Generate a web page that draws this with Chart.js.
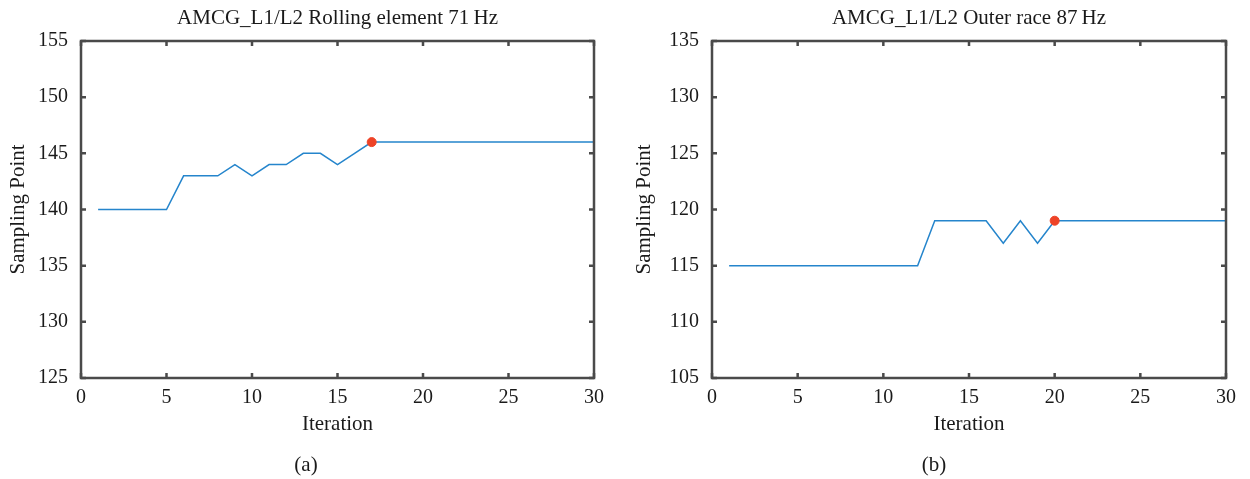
<!DOCTYPE html>
<html>
<head>
<meta charset="utf-8">
<script src="https://cdn.jsdelivr.net/npm/chart.js@4.4.1/dist/chart.umd.min.js"></script>
<style>
    html, body { margin: 0; padding: 0; background: #ffffff; }
    #wrap { width: 1250px; height: 479px; display: flex; }
    canvas { display: block; }
    #chartB { margin-left: 6px; }
</style>
</head>
<body>
<div id="wrap">
    <canvas id="chartA" width="612" height="479"></canvas>
    <canvas id="chartB" width="632" height="479"></canvas>
</div>
<script>
// Iteration axis shared by both runs
var iterations = [1, 2, 3, 4, 5, 6, 7, 8, 9, 10, 11, 12, 13, 14, 15, 16, 17, 18, 19, 20, 21, 22, 23, 24, 25, 26, 27, 28, 29, 30];

// (a) rolling element, 71 Hz
var rollingPoints = [140, 140, 140, 140, 140, 143, 143, 143, 144, 143, 144, 144, 145, 145, 144, 145, 146, 146, 146, 146, 146, 146, 146, 146, 146, 146, 146, 146, 146, 146];
var rollingBest = { iteration: 17, point: 146 };

// (b) outer race, 87 Hz
var outerPoints = [115, 115, 115, 115, 115, 115, 115, 115, 115, 115, 115, 115, 119, 119, 119, 119, 117, 119, 117, 119, 119, 119, 119, 119, 119, 119, 119, 119, 119, 119];
var outerBest = { iteration: 20, point: 119 };

var xTicks = [0, 5, 10, 15, 20, 25, 30];
var rollingYTicks = [125, 130, 135, 140, 145, 150, 155];
var outerYTicks = [105, 110, 115, 120, 125, 130, 135];

var FONT = "'Liberation Serif', 'DejaVu Serif', serif";
var TEXT = "#1a1a1a";
var FRAME = "#4a4a4a";

// Box frame with inward ticks on all four sides, plus the panel caption
var framePlugin = {
    id: "frame",
    afterDraw: function (chart, args, opts) {
        var ctx = chart.ctx;
        var a = chart.chartArea;
        var xs = chart.scales.x;
        var ys = chart.scales.y;
        var len = 5;
        ctx.save();
        ctx.strokeStyle = FRAME;
        ctx.lineWidth = 2.5;
        ctx.beginPath();
        xs.ticks.forEach(function (t) {
            var px = xs.getPixelForValue(t.value);
            ctx.moveTo(px, a.bottom);
            ctx.lineTo(px, a.bottom - len);
            ctx.moveTo(px, a.top);
            ctx.lineTo(px, a.top + len);
        });
        ys.ticks.forEach(function (t) {
            var py = ys.getPixelForValue(t.value);
            ctx.moveTo(a.left, py);
            ctx.lineTo(a.left + len, py);
            ctx.moveTo(a.right, py);
            ctx.lineTo(a.right - len, py);
        });
        ctx.stroke();
        ctx.strokeRect(a.left, a.top, a.right - a.left, a.bottom - a.top);

        if (opts.caption) {
            ctx.fillStyle = TEXT;
            ctx.font = "21px " + FONT;
            ctx.textAlign = "center";
            ctx.textBaseline = "middle";
            ctx.fillText(opts.caption, chart.width / 2, 465);
        }
        ctx.restore();
    }
};

function makeChart(id, titleText, caption, values, best, yTicks, leftWidth, rightPad, yTitlePad) {
    var ctx = document.getElementById(id).getContext("2d");
    var lineData = iterations.map(function (it, i) { return { x: it, y: values[i] }; });

    return new Chart(ctx, {
        type: "line",
        data: {
            datasets: [
                {
                    type: "scatter",
                    data: [{ x: best.iteration, y: best.point }],
                    backgroundColor: "#ee4327",
                    borderColor: "#ee4327",
                    pointRadius: 4.5,
                    order: 0
                },
                {
                    data: lineData,
                    borderColor: "#2585cc",
                    borderWidth: 1.5,
                    pointRadius: 0,
                    tension: 0,
                    fill: false,
                    order: 1
                }
            ]
        },
        plugins: [framePlugin],
        options: {
            responsive: false,
            animation: false,
            devicePixelRatio: 1,
            layout: { padding: { left: 0, right: rightPad, top: 0, bottom: 28.6 } },
            plugins: {
                legend: { display: false },
                tooltip: { enabled: false },
                frame: { caption: caption },
                title: {
                    display: true,
                    fullSize: false,
                    text: titleText,
                    color: TEXT,
                    font: { family: FONT, size: 21, weight: "normal" },
                    padding: { top: 5.5, bottom: 10.3 }
                }
            },
            scales: {
                x: {
                    type: "linear",
                    min: xTicks[0],
                    max: xTicks[xTicks.length - 1],
                    afterBuildTicks: function (scale) {
                        scale.ticks = xTicks.map(function (v) { return { value: v }; });
                    },
                    afterFit: function (scale) { scale.height = 72.4; },
                    grid: { display: false, drawTicks: false },
                    border: { display: false },
                    ticks: {
                        color: TEXT,
                        padding: 8,
                        maxRotation: 0,
                        font: { family: FONT, size: 20 }
                    },
                    title: {
                        display: true,
                        text: "Iteration",
                        color: TEXT,
                        font: { family: FONT, size: 21 },
                        padding: { top: 0, bottom: 13.8 }
                    }
                },
                y: {
                    type: "linear",
                    min: yTicks[0],
                    max: yTicks[yTicks.length - 1],
                    afterBuildTicks: function (scale) {
                        scale.ticks = yTicks.map(function (v) { return { value: v }; });
                    },
                    afterFit: function (scale) { scale.width = leftWidth; },
                    grid: { display: false, drawTicks: false },
                    border: { display: false },
                    ticks: {
                        color: TEXT,
                        padding: 13,
                        font: { family: FONT, size: 20 }
                    },
                    title: {
                        display: true,
                        text: "Sampling Point",
                        color: TEXT,
                        font: { family: FONT, size: 21 },
                        padding: { top: yTitlePad, bottom: 0 }
                    }
                }
            }
        }
    });
}

document.addEventListener("DOMContentLoaded", function () {
    makeChart("chartA", "AMCG_L1/L2 Rolling element 71\u2009Hz", "(a)", rollingPoints, rollingBest, rollingYTicks, 81, 18, 5.9);
    makeChart("chartB", "AMCG_L1/L2 Outer race 87\u2009Hz", "(b)", outerPoints, outerBest, outerYTicks, 94, 24, 13.4);
});
</script>
</body>
</html>
